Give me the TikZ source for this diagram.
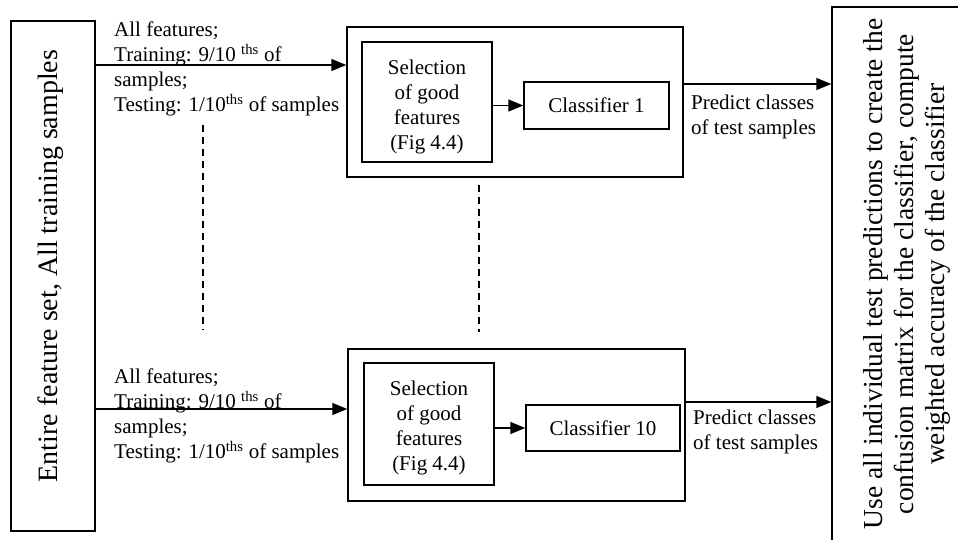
\documentclass[tikz,border=0pt]{standalone}
\usepackage{fontspec}
\setmainfont{Liberation Serif}
\usetikzlibrary{arrows.meta}
\begin{document}
\begin{tikzpicture}[x=1pt,y=-1pt,
  box/.style={draw,line width=1.4pt,inner sep=0pt},
  sm/.style={font=\fontsize{21}{25}\selectfont},
  big/.style={font=\fontsize{28}{31}\selectfont},
  lbl/.style={sm,inner sep=0pt,anchor=north west,align=left},
  arr/.style={line width=1.4pt,-{Triangle[length=15pt,width=12pt]}},
  dsh/.style={line width=1.4pt,dash pattern=on 7pt off 5pt}]
\useasboundingbox (0,0) rectangle (958,540);

% left box
\node[box,minimum width=84pt,minimum height=510pt] (lb) at (53,276) {};
\node[big,rotate=90,inner sep=0pt] (lbt) at (50.5,266)
  {Entire feature set, All training samples};

% right box (clipped by the page)
\node[box,minimum width=160pt,minimum height=560pt] (rb) at (912,287) {};
\node[big,font=\fontsize{27.5}{31}\selectfont,align=center,rotate=90,inner sep=0pt] (rt) at (907,274)
  {Use all individual test predictions to create the\\confusion matrix for the classifier, compute\\weighted accuracy of the classifier};

% fold 1
\node[box,minimum width=336pt,minimum height=150pt] (o1) at (515,102) {};
\node[box,minimum width=130pt,minimum height=120pt] (s1) at (427,102) {};
\node[sm,align=center,inner sep=0pt] (s1t) at (427,106.5)
  {Selection\\of good\\features\\(Fig 4.4)};
\node[box,sm,minimum width=145pt,minimum height=47pt] (c1) at (596.5,105.5) {Classifier 1};

% fold 10
\node[box,minimum width=337pt,minimum height=152pt] (o2) at (516.5,425) {};
\node[box,minimum width=130pt,minimum height=122pt] (s2) at (429,424) {};
\node[sm,align=center,inner sep=0pt] (s2t) at (429,428)
  {Selection\\of good\\features\\(Fig 4.4)};
\node[box,sm,minimum width=154pt,minimum height=46pt] (c2) at (603,428) {Classifier 10};

% input arrows and labels
\draw[arr] (lb.east |- 0,65) -- (o1.west |- 0,65);
\node[lbl] (l1) at (114,22) {All features;\\Training: 9/10 \textsuperscript{ths} of\\samples;\\Testing: 1/10\textsuperscript{ths} of samples};
\draw[arr] (lb.east |- 0,409) -- (o2.west |- 0,409);
\node[lbl] (l2) at (114,369) {All features;\\Training: 9/10 \textsuperscript{ths} of\\samples;\\Testing: 1/10\textsuperscript{ths} of samples};

% inner arrows
\draw[arr] (s1.east |- c1.west) -- (c1.west);
\draw[arr] (s2.east |- c2.west) -- (c2.west);

% output arrows and labels
\draw[arr] (o1.east |- 0,84) -- (rb.west |- 0,84);
\node[lbl] (p1) at (691,95) {Predict classes\\of test samples};
\draw[arr] (o2.east |- 0,402) -- (rb.west |- 0,402);
\node[lbl] (p2) at (693,410) {Predict classes\\of test samples};

% dashed continuation lines
\coordinate (da) at (203,125);
\coordinate (db) at (203,330);
\coordinate (dc) at (479,185);
\coordinate (dd) at (479,332);
\draw[dsh] (da) -- (db);
\draw[dsh] (dc) -- (dd);
\end{tikzpicture}
\end{document}
